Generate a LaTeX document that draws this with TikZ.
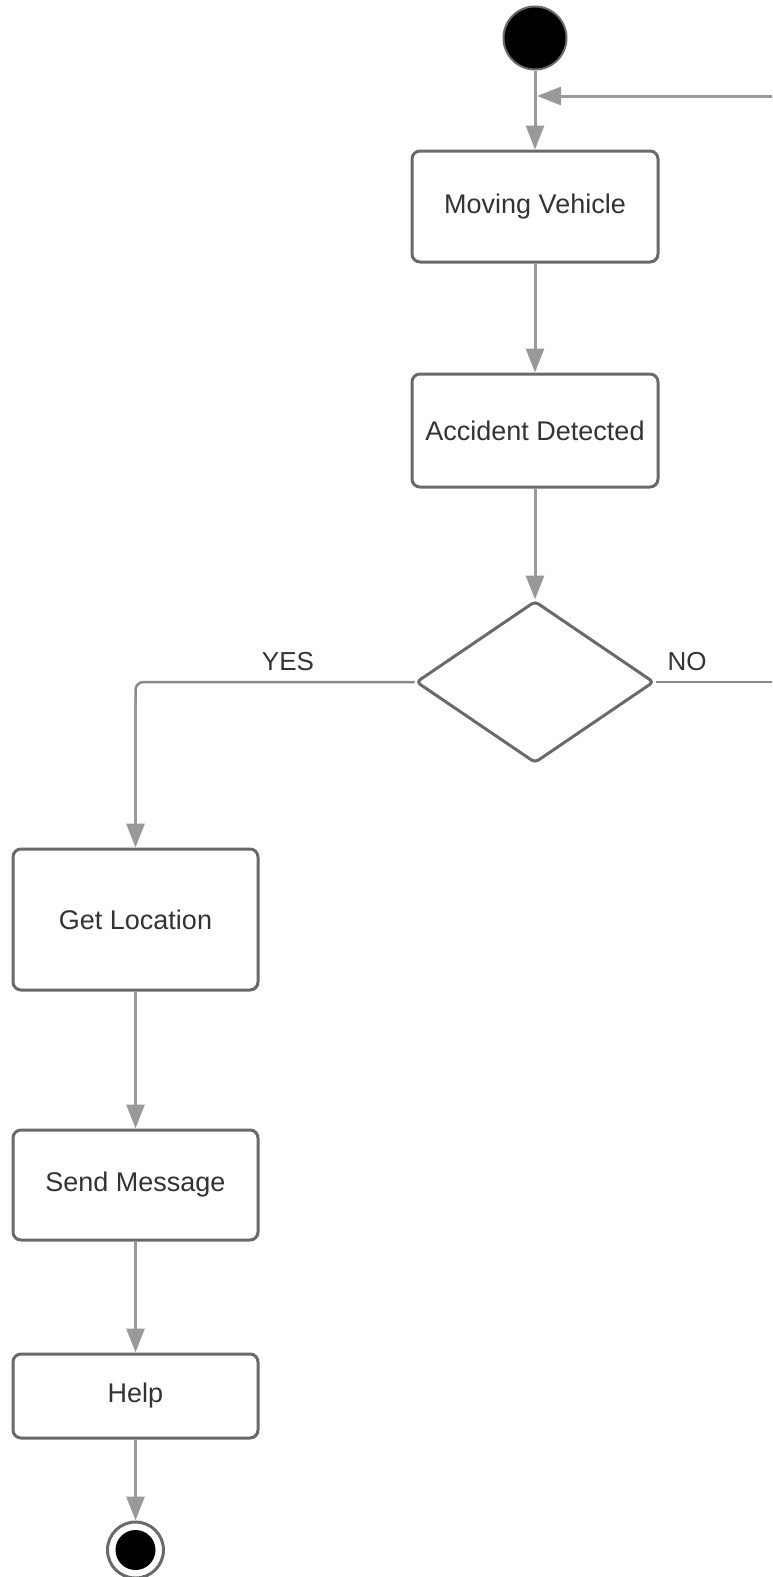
\documentclass[tikz,border=0pt]{standalone}
\usepackage{fontspec}
\setmainfont{Liberation Sans}
\usetikzlibrary{shapes.geometric,arrows.meta}
\definecolor{boxline}{HTML}{6A6A6A}
\definecolor{flowline}{HTML}{999999}
\definecolor{txt}{HTML}{333333}
\tikzset{
  activity/.style={draw=boxline, line width=3pt, rounded corners=8pt, fill=white,
    text=txt, font=\fontsize{27}{32}\selectfont, inner sep=0pt},
  decision/.style={diamond, draw=boxline, line width=3pt, rounded corners=4pt,
    inner sep=0pt, minimum width=238pt, minimum height=162pt},
  flow/.style={draw=flowline, line width=3pt,
    -{Triangle[length=24pt,width=18pt]}},
  guardline/.style={draw=flowline!90!black, line width=2.5pt},
  guard/.style={text=txt, font=\fontsize{26}{30}\selectfont, inner sep=0pt},
}
\begin{document}
\begin{tikzpicture}[x=1pt,y=-1pt]
\useasboundingbox (0,0) rectangle (772,1577);

% initial node
\node[circle, fill=black, draw=boxline, line width=2pt, minimum size=63pt, inner sep=0pt] (start) at (535,38) {};

% actions
\node[activity, minimum width=246pt, minimum height=111pt] (mv) at (535,206.5) {Moving Vehicle};
\node[activity, minimum width=246pt, minimum height=113pt] (ad) at (535,430.5) {Accident Detected};
\node[decision] (dec) at (535,682) {};
\node[activity, minimum width=245pt, minimum height=141pt] (gl) at (135.5,919.5) {Get Location};
\node[activity, minimum width=245pt, minimum height=110pt] (sm) at (135.5,1185) {Send Message};
\node[activity, minimum width=245pt, minimum height=84pt] (help) at (135.5,1396) {Help};

% final node
\node[circle, draw=boxline, line width=3pt, fill=white, minimum size=56pt, inner sep=0pt] (final) at (135.5,1550) {};
\node[circle, fill=black, minimum size=40pt, inner sep=0pt] at (final) {};

% bend of the YES branch and free ends of the loop back to the start
\coordinate (yesbend) at (gl.north |- dec.west);
\coordinate (yesdown) at ([yshift=-40pt]yesbend);
\coordinate (noend) at (772,682);
\coordinate (loopin) at (772,96);
\coordinate (join) at (537,96);

% flows
\draw[flow] (start.south) -- (mv.north);
\draw[flow] (mv.south) -- (ad.north);
\draw[flow] (ad.south) -- (dec.north);
\draw[guardline, rounded corners=8pt] (dec.west) -- (yesbend) -- (yesdown);
\draw[flow] ([yshift=20pt]yesdown) -- (gl.north);
\draw[guardline] (dec.east) -- (noend);
\draw[flow] (loopin) -- (join);
\draw[flow] (gl.south) -- (sm.north);
\draw[flow] (sm.south) -- (help.north);
\draw[flow] (help.south) -- (final.north);

% guards
\node[guard] (yes) at (288,662) {YES};
\node[guard] (no) at (687,662) {NO};
\end{tikzpicture}
\end{document}
